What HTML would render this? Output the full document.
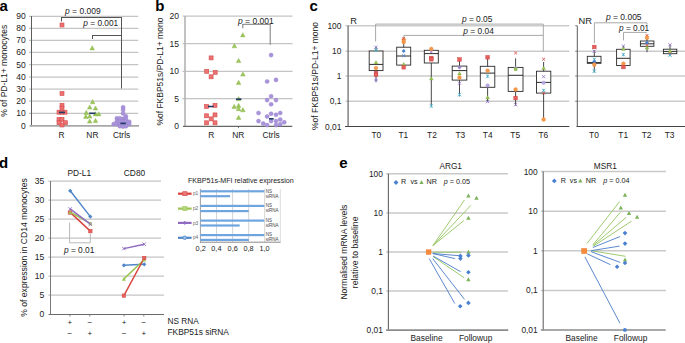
<!DOCTYPE html>
<html><head><meta charset="utf-8"><style>
html,body{margin:0;padding:0;background:#fff;}
body{width:685px;height:343px;overflow:hidden;}
svg{display:block;font-family:"Liberation Sans", sans-serif;}
</style></head><body>
<svg width="685" height="343" viewBox="0 0 685 343" font-family='"Liberation Sans", sans-serif'>
<rect width="685" height="343" fill="#fff"/>
<text x="-0.6" y="10.8" font-size="15" text-anchor="start" font-weight="bold" fill="#000"  style="">a</text>
<line x1="29" y1="113.3" x2="138.3" y2="113.3" stroke="#c4c4c4" stroke-width="1.25" />
<text x="25.8" y="116.3" font-size="8.5" text-anchor="end" font-weight="normal" fill="#222"  style="">10</text>
<line x1="29" y1="101.2" x2="138.3" y2="101.2" stroke="#c4c4c4" stroke-width="1.25" />
<text x="25.8" y="104.2" font-size="8.5" text-anchor="end" font-weight="normal" fill="#222"  style="">20</text>
<line x1="29" y1="89.2" x2="138.3" y2="89.2" stroke="#c4c4c4" stroke-width="1.25" />
<text x="25.8" y="92.2" font-size="8.5" text-anchor="end" font-weight="normal" fill="#222"  style="">30</text>
<line x1="29" y1="77.2" x2="138.3" y2="77.2" stroke="#c4c4c4" stroke-width="1.25" />
<text x="25.8" y="80.2" font-size="8.5" text-anchor="end" font-weight="normal" fill="#222"  style="">40</text>
<line x1="29" y1="64.7" x2="138.3" y2="64.7" stroke="#c4c4c4" stroke-width="1.25" />
<text x="25.8" y="67.7" font-size="8.5" text-anchor="end" font-weight="normal" fill="#222"  style="">50</text>
<line x1="29" y1="52.3" x2="138.3" y2="52.3" stroke="#c4c4c4" stroke-width="1.25" />
<text x="25.8" y="55.3" font-size="8.5" text-anchor="end" font-weight="normal" fill="#222"  style="">60</text>
<line x1="29" y1="40.4" x2="138.3" y2="40.4" stroke="#c4c4c4" stroke-width="1.25" />
<text x="25.8" y="43.4" font-size="8.5" text-anchor="end" font-weight="normal" fill="#222"  style="">70</text>
<line x1="29" y1="28.3" x2="138.3" y2="28.3" stroke="#c4c4c4" stroke-width="1.25" />
<text x="25.8" y="31.3" font-size="8.5" text-anchor="end" font-weight="normal" fill="#222"  style="">80</text>
<line x1="29" y1="16.3" x2="138.3" y2="16.3" stroke="#c4c4c4" stroke-width="1.25" />
<text x="25.8" y="19.3" font-size="8.5" text-anchor="end" font-weight="normal" fill="#222"  style="">90</text>
<text x="25.8" y="128.6" font-size="8.5" text-anchor="end" font-weight="normal" fill="#222"  style="">0</text>
<line x1="31.5" y1="16" x2="31.5" y2="126.4" stroke="#5c5c5c" stroke-width="1" />
<line x1="29.5" y1="125.8" x2="139" y2="125.8" stroke="#a8a8a8" stroke-width="1.7" />
<text transform="translate(7.4,70.8) rotate(-90)" font-size="8.5" text-anchor="middle" fill="#222">% of PD-L1+ monocytes</text>
<line x1="61.5" y1="17.5" x2="121.5" y2="17.5" stroke="#555" stroke-width="1" />
<line x1="61.5" y1="17" x2="61.5" y2="21.5" stroke="#555" stroke-width="1" />
<line x1="121.5" y1="17" x2="121.5" y2="88.5" stroke="#555" stroke-width="1" />
<line x1="92.5" y1="35.5" x2="121" y2="35.5" stroke="#555" stroke-width="1" />
<line x1="92.5" y1="35" x2="92.5" y2="39" stroke="#555" stroke-width="1" />
<text x="65" y="14.2" font-size="8.5" text-anchor="start" font-weight="normal" fill="#222"  style=""><tspan font-style="italic">p</tspan> = 0.009</text>
<text x="83.3" y="26.3" font-size="8.3" text-anchor="start" font-weight="normal" fill="#222"  style=""><tspan font-style="italic">p</tspan> = 0.001</text>
<rect x="60.0" y="23.0" width="4" height="4" fill="#ec7272" stroke="#d44c4c" stroke-width="0.6"/>
<rect x="60.0" y="91.5" width="4" height="4" fill="#ec7272" stroke="#d44c4c" stroke-width="0.6"/>
<rect x="60.0" y="103.3" width="4" height="4" fill="#ec7272" stroke="#d44c4c" stroke-width="0.6"/>
<rect x="60.0" y="106.2" width="4" height="4" fill="#ec7272" stroke="#d44c4c" stroke-width="0.6"/>
<rect x="57.0" y="110.2" width="4" height="4" fill="#ec7272" stroke="#d44c4c" stroke-width="0.6"/>
<rect x="60.0" y="110.2" width="4" height="4" fill="#ec7272" stroke="#d44c4c" stroke-width="0.6"/>
<rect x="63.0" y="110.2" width="4" height="4" fill="#ec7272" stroke="#d44c4c" stroke-width="0.6"/>
<rect x="57.0" y="117.5" width="4" height="4" fill="#ec7272" stroke="#d44c4c" stroke-width="0.6"/>
<rect x="60.0" y="117.5" width="4" height="4" fill="#ec7272" stroke="#d44c4c" stroke-width="0.6"/>
<rect x="57.0" y="120.7" width="4" height="4" fill="#ec7272" stroke="#d44c4c" stroke-width="0.6"/>
<rect x="63.5" y="120.7" width="4" height="4" fill="#ec7272" stroke="#d44c4c" stroke-width="0.6"/>
<rect x="60.0" y="123.0" width="4" height="4" fill="#ec7272" stroke="#d44c4c" stroke-width="0.6"/>
<line x1="59" y1="112.4" x2="65" y2="112.4" stroke="#1f3a64" stroke-width="1.6" />
<path d="M89.9,49.9 L92.2,45.699999999999996 L94.5,49.9 Z" fill="#9cc65a" stroke="#86b244" stroke-width="0.4"/>
<path d="M90.3,103.8 L92.6,99.60000000000001 L94.89999999999999,103.8 Z" fill="#9cc65a" stroke="#86b244" stroke-width="0.4"/>
<path d="M87.4,109.1 L89.7,104.9 L92.0,109.1 Z" fill="#9cc65a" stroke="#86b244" stroke-width="0.4"/>
<path d="M93.2,110.1 L95.5,105.9 L97.8,110.1 Z" fill="#9cc65a" stroke="#86b244" stroke-width="0.4"/>
<path d="M84.0,114.39999999999999 L86.3,110.2 L88.6,114.39999999999999 Z" fill="#9cc65a" stroke="#86b244" stroke-width="0.4"/>
<path d="M93.2,115.89999999999999 L95.5,111.7 L97.8,115.89999999999999 Z" fill="#9cc65a" stroke="#86b244" stroke-width="0.4"/>
<path d="M96.5,115.89999999999999 L98.8,111.7 L101.1,115.89999999999999 Z" fill="#9cc65a" stroke="#86b244" stroke-width="0.4"/>
<path d="M83.5,118.39999999999999 L85.8,114.2 L88.1,118.39999999999999 Z" fill="#9cc65a" stroke="#86b244" stroke-width="0.4"/>
<path d="M87.4,118.1 L89.7,113.9 L92.0,118.1 Z" fill="#9cc65a" stroke="#86b244" stroke-width="0.4"/>
<path d="M87.4,123.1 L89.7,118.9 L92.0,123.1 Z" fill="#9cc65a" stroke="#86b244" stroke-width="0.4"/>
<path d="M93.2,122.6 L95.5,118.4 L97.8,122.6 Z" fill="#9cc65a" stroke="#86b244" stroke-width="0.4"/>
<line x1="89.2" y1="113.3" x2="95.5" y2="113.3" stroke="#1f3a64" stroke-width="1.6" />
<circle cx="123.1" cy="107.3" r="2.05" fill="#a993da" stroke="#9580cc" stroke-width="0.4"/>
<circle cx="123.1" cy="109.8" r="2.05" fill="#a993da" stroke="#9580cc" stroke-width="0.4"/>
<circle cx="123.1" cy="113.4" r="2.05" fill="#a993da" stroke="#9580cc" stroke-width="0.4"/>
<circle cx="125.9" cy="116.3" r="2.05" fill="#a993da" stroke="#9580cc" stroke-width="0.4"/>
<circle cx="116.9" cy="118.3" r="2.05" fill="#a993da" stroke="#9580cc" stroke-width="0.4"/>
<circle cx="119.8" cy="118.3" r="2.05" fill="#a993da" stroke="#9580cc" stroke-width="0.4"/>
<circle cx="123.2" cy="118.8" r="2.05" fill="#a993da" stroke="#9580cc" stroke-width="0.4"/>
<circle cx="125.9" cy="118.8" r="2.05" fill="#a993da" stroke="#9580cc" stroke-width="0.4"/>
<circle cx="116.9" cy="121.2" r="2.05" fill="#a993da" stroke="#9580cc" stroke-width="0.4"/>
<circle cx="119.8" cy="121.2" r="2.05" fill="#a993da" stroke="#9580cc" stroke-width="0.4"/>
<circle cx="123" cy="121.2" r="2.05" fill="#a993da" stroke="#9580cc" stroke-width="0.4"/>
<circle cx="125.9" cy="121.2" r="2.05" fill="#a993da" stroke="#9580cc" stroke-width="0.4"/>
<circle cx="129.2" cy="121.7" r="2.05" fill="#a993da" stroke="#9580cc" stroke-width="0.4"/>
<circle cx="113.7" cy="124" r="2.05" fill="#a993da" stroke="#9580cc" stroke-width="0.4"/>
<circle cx="116.9" cy="124" r="2.05" fill="#a993da" stroke="#9580cc" stroke-width="0.4"/>
<circle cx="119.8" cy="124.5" r="2.05" fill="#a993da" stroke="#9580cc" stroke-width="0.4"/>
<circle cx="123" cy="124.5" r="2.05" fill="#a993da" stroke="#9580cc" stroke-width="0.4"/>
<circle cx="126" cy="124.5" r="2.05" fill="#a993da" stroke="#9580cc" stroke-width="0.4"/>
<circle cx="129.2" cy="124" r="2.05" fill="#a993da" stroke="#9580cc" stroke-width="0.4"/>
<circle cx="119.8" cy="126.3" r="2.05" fill="#a993da" stroke="#9580cc" stroke-width="0.4"/>
<circle cx="123" cy="126.6" r="2.05" fill="#a993da" stroke="#9580cc" stroke-width="0.4"/>
<circle cx="126" cy="126.3" r="2.05" fill="#a993da" stroke="#9580cc" stroke-width="0.4"/>
<line x1="120.4" y1="123.4" x2="125.9" y2="123.4" stroke="#1f3a64" stroke-width="1.6" />
<text x="61.5" y="137.7" font-size="8.4" text-anchor="middle" font-weight="normal" fill="#222"  style="">R</text>
<text x="92.4" y="137.7" font-size="8.4" text-anchor="middle" font-weight="normal" fill="#222"  style="">NR</text>
<text x="121.6" y="137.7" font-size="8.4" text-anchor="middle" font-weight="normal" fill="#222"  style="">Ctrls</text>
<text x="155.3" y="10.8" font-size="15" text-anchor="start" font-weight="bold" fill="#000"  style="">b</text>
<line x1="182.5" y1="98.6" x2="292.5" y2="98.6" stroke="#c4c4c4" stroke-width="1.25" />
<text x="179" y="101.6" font-size="8.5" text-anchor="end" font-weight="normal" fill="#222"  style="">5</text>
<line x1="182.5" y1="71.35" x2="292.5" y2="71.35" stroke="#c4c4c4" stroke-width="1.25" />
<text x="179" y="74.35" font-size="8.5" text-anchor="end" font-weight="normal" fill="#222"  style="">10</text>
<line x1="182.5" y1="43.5" x2="292.5" y2="43.5" stroke="#c4c4c4" stroke-width="1.25" />
<text x="179" y="46.5" font-size="8.5" text-anchor="end" font-weight="normal" fill="#222"  style="">15</text>
<line x1="182.5" y1="16.2" x2="292.5" y2="16.2" stroke="#c4c4c4" stroke-width="1.25" />
<text x="179" y="19.2" font-size="8.5" text-anchor="end" font-weight="normal" fill="#222"  style="">20</text>
<text x="179" y="129.2" font-size="8.5" text-anchor="end" font-weight="normal" fill="#222"  style="">0</text>
<line x1="185" y1="16" x2="185" y2="126.4" stroke="#b8b8b8" stroke-width="1.7" />
<line x1="183" y1="126.4" x2="292.3" y2="126.4" stroke="#666" stroke-width="1.3" />
<line x1="238.5" y1="126.2" x2="238.5" y2="128" stroke="#5a5a5a" stroke-width="0.8" />
<text transform="translate(162.6,71.6) rotate(-90)" font-size="8.5" text-anchor="middle" fill="#222">%of FKBP51s/PD-L1+ mono</text>
<line x1="242.8" y1="24.3" x2="270.2" y2="24.3" stroke="#7a7a7a" stroke-width="1" />
<line x1="242.8" y1="24" x2="242.8" y2="28.3" stroke="#7a7a7a" stroke-width="1" />
<line x1="270.2" y1="24" x2="270.2" y2="44.8" stroke="#7a7a7a" stroke-width="1" />
<text x="238" y="23.8" font-size="8.5" text-anchor="start" font-weight="normal" fill="#222"  style=""><tspan font-style="italic">p</tspan> = 0.001</text>
<rect x="209.1" y="55.9" width="4" height="4" fill="#ec7272" stroke="#d44c4c" stroke-width="0.6"/>
<rect x="204.7" y="69.3" width="4" height="4" fill="#ec7272" stroke="#d44c4c" stroke-width="0.6"/>
<rect x="213.2" y="70.3" width="4" height="4" fill="#ec7272" stroke="#d44c4c" stroke-width="0.6"/>
<rect x="209.1" y="74.8" width="4" height="4" fill="#ec7272" stroke="#d44c4c" stroke-width="0.6"/>
<rect x="204.6" y="104.5" width="4" height="4" fill="#ec7272" stroke="#d44c4c" stroke-width="0.6"/>
<rect x="213.0" y="103.3" width="4" height="4" fill="#ec7272" stroke="#d44c4c" stroke-width="0.6"/>
<rect x="204.6" y="113.8" width="4" height="4" fill="#ec7272" stroke="#d44c4c" stroke-width="0.6"/>
<rect x="213.0" y="112.9" width="4" height="4" fill="#ec7272" stroke="#d44c4c" stroke-width="0.6"/>
<rect x="209.2" y="116.9" width="4" height="4" fill="#ec7272" stroke="#d44c4c" stroke-width="0.6"/>
<rect x="204.6" y="120.8" width="4" height="4" fill="#ec7272" stroke="#d44c4c" stroke-width="0.6"/>
<rect x="213.0" y="120.8" width="4" height="4" fill="#ec7272" stroke="#d44c4c" stroke-width="0.6"/>
<line x1="208" y1="106.5" x2="213.6" y2="106.5" stroke="#1f3a64" stroke-width="1.6" />
<path d="M240.5,36.9 L242.8,32.699999999999996 L245.10000000000002,36.9 Z" fill="#9cc65a" stroke="#86b244" stroke-width="0.4"/>
<path d="M232.1,47.800000000000004 L234.4,43.6 L236.70000000000002,47.800000000000004 Z" fill="#9cc65a" stroke="#86b244" stroke-width="0.4"/>
<path d="M236.29999999999998,62.6 L238.6,58.4 L240.9,62.6 Z" fill="#9cc65a" stroke="#86b244" stroke-width="0.4"/>
<path d="M240.6,76.1 L242.9,71.9 L245.20000000000002,76.1 Z" fill="#9cc65a" stroke="#86b244" stroke-width="0.4"/>
<path d="M236.29999999999998,84.39999999999999 L238.6,80.2 L240.9,84.39999999999999 Z" fill="#9cc65a" stroke="#86b244" stroke-width="0.4"/>
<path d="M236.29999999999998,100.8 L238.6,96.60000000000001 L240.9,100.8 Z" fill="#9cc65a" stroke="#86b244" stroke-width="0.4"/>
<path d="M231.89999999999998,108.5 L234.2,104.30000000000001 L236.5,108.5 Z" fill="#9cc65a" stroke="#86b244" stroke-width="0.4"/>
<path d="M236.29999999999998,107.39999999999999 L238.6,103.2 L240.9,107.39999999999999 Z" fill="#9cc65a" stroke="#86b244" stroke-width="0.4"/>
<path d="M236.29999999999998,110.69999999999999 L238.6,106.5 L240.9,110.69999999999999 Z" fill="#9cc65a" stroke="#86b244" stroke-width="0.4"/>
<path d="M240.6,111.8 L242.9,107.60000000000001 L245.20000000000002,111.8 Z" fill="#9cc65a" stroke="#86b244" stroke-width="0.4"/>
<path d="M236.29999999999998,119.39999999999999 L238.6,115.2 L240.9,119.39999999999999 Z" fill="#9cc65a" stroke="#86b244" stroke-width="0.4"/>
<line x1="236" y1="99.2" x2="241.4" y2="99.2" stroke="#1f3a64" stroke-width="1.6" />
<circle cx="271.1" cy="55.1" r="2.05" fill="#a993da" stroke="#9580cc" stroke-width="0.4"/>
<circle cx="267.1" cy="81.5" r="2.05" fill="#a993da" stroke="#9580cc" stroke-width="0.4"/>
<circle cx="276" cy="79.9" r="2.05" fill="#a993da" stroke="#9580cc" stroke-width="0.4"/>
<circle cx="271.1" cy="96.2" r="2.05" fill="#a993da" stroke="#9580cc" stroke-width="0.4"/>
<circle cx="267.1" cy="100.1" r="2.05" fill="#a993da" stroke="#9580cc" stroke-width="0.4"/>
<circle cx="276" cy="100.1" r="2.05" fill="#a993da" stroke="#9580cc" stroke-width="0.4"/>
<circle cx="271.1" cy="104.3" r="2.05" fill="#a993da" stroke="#9580cc" stroke-width="0.4"/>
<circle cx="258.5" cy="113" r="2.05" fill="#a993da" stroke="#9580cc" stroke-width="0.4"/>
<circle cx="267.1" cy="116.5" r="2.05" fill="#a993da" stroke="#9580cc" stroke-width="0.4"/>
<circle cx="271.1" cy="113.7" r="2.05" fill="#a993da" stroke="#9580cc" stroke-width="0.4"/>
<circle cx="276" cy="114.8" r="2.05" fill="#a993da" stroke="#9580cc" stroke-width="0.4"/>
<circle cx="280.2" cy="113" r="2.05" fill="#a993da" stroke="#9580cc" stroke-width="0.4"/>
<circle cx="258.5" cy="121.1" r="2.05" fill="#a993da" stroke="#9580cc" stroke-width="0.4"/>
<circle cx="263.2" cy="123.5" r="2.05" fill="#a993da" stroke="#9580cc" stroke-width="0.4"/>
<circle cx="267.1" cy="125.1" r="2.05" fill="#a993da" stroke="#9580cc" stroke-width="0.4"/>
<circle cx="271.1" cy="121.1" r="2.05" fill="#a993da" stroke="#9580cc" stroke-width="0.4"/>
<circle cx="276" cy="121.1" r="2.05" fill="#a993da" stroke="#9580cc" stroke-width="0.4"/>
<circle cx="280.2" cy="119.5" r="2.05" fill="#a993da" stroke="#9580cc" stroke-width="0.4"/>
<circle cx="276" cy="125.1" r="2.05" fill="#a993da" stroke="#9580cc" stroke-width="0.4"/>
<circle cx="280.2" cy="124.2" r="2.05" fill="#a993da" stroke="#9580cc" stroke-width="0.4"/>
<circle cx="284.2" cy="122.3" r="2.05" fill="#a993da" stroke="#9580cc" stroke-width="0.4"/>
<line x1="269" y1="118.8" x2="273.7" y2="118.8" stroke="#1f3a64" stroke-width="1.6" />
<text x="211.2" y="137.7" font-size="8.4" text-anchor="middle" font-weight="normal" fill="#222"  style="">R</text>
<text x="238.3" y="137.7" font-size="8.4" text-anchor="middle" font-weight="normal" fill="#222"  style="">NR</text>
<text x="271.1" y="137.7" font-size="8.4" text-anchor="middle" font-weight="normal" fill="#222"  style="">Ctrls</text>
<text x="309.6" y="11" font-size="15" text-anchor="start" font-weight="bold" fill="#000"  style="">c</text>
<line x1="345.5" y1="25.7" x2="569.3" y2="25.7" stroke="#cbcbcb" stroke-width="1.5" />
<line x1="575.2" y1="25.7" x2="577.3" y2="25.7" stroke="#5a5a5a" stroke-width="0.8" />
<line x1="345.5" y1="51.2" x2="569.3" y2="51.2" stroke="#cbcbcb" stroke-width="1.5" />
<line x1="577" y1="51.2" x2="685" y2="51.2" stroke="#cbcbcb" stroke-width="1.5" />
<line x1="575.2" y1="51.2" x2="577.3" y2="51.2" stroke="#5a5a5a" stroke-width="0.8" />
<line x1="345.5" y1="76.1" x2="569.3" y2="76.1" stroke="#cbcbcb" stroke-width="1.5" />
<line x1="577" y1="76.1" x2="685" y2="76.1" stroke="#cbcbcb" stroke-width="1.5" />
<line x1="575.2" y1="76.1" x2="577.3" y2="76.1" stroke="#5a5a5a" stroke-width="0.8" />
<line x1="345.5" y1="101.3" x2="569.3" y2="101.3" stroke="#cbcbcb" stroke-width="1.5" />
<line x1="577" y1="101.3" x2="685" y2="101.3" stroke="#cbcbcb" stroke-width="1.5" />
<line x1="575.2" y1="101.3" x2="577.3" y2="101.3" stroke="#5a5a5a" stroke-width="0.8" />
<text x="341.4" y="28.620000000000005" font-size="8.4" text-anchor="end" font-weight="normal" fill="#222"  style="">100</text>
<text x="341.4" y="53.84" font-size="8.4" text-anchor="end" font-weight="normal" fill="#222"  style="">10</text>
<text x="341.4" y="79.06" font-size="8.4" text-anchor="end" font-weight="normal" fill="#222"  style="">1</text>
<text x="341.4" y="104.28" font-size="8.4" text-anchor="end" font-weight="normal" fill="#222"  style="">0,1</text>
<text x="341.4" y="129.5" font-size="8.4" text-anchor="end" font-weight="normal" fill="#222"  style="">0,01</text>
<line x1="348.1" y1="25.6" x2="348.1" y2="126.6" stroke="#7a7a7a" stroke-width="1.4" />
<line x1="345" y1="126.5" x2="569.4" y2="126.5" stroke="#444" stroke-width="1.2" />
<line x1="577.3" y1="25.8" x2="577.3" y2="126.6" stroke="#5a5a5a" stroke-width="1" />
<line x1="576.5" y1="126.5" x2="685" y2="126.5" stroke="#444" stroke-width="1.2" />
<text transform="translate(318.1,76) rotate(-90)" font-size="8.5" text-anchor="middle" fill="#222">%of FKBP51s/PD-L1+ mono</text>
<text x="350.3" y="23.7" font-size="9.3" text-anchor="start" font-weight="normal" fill="#222"  style="">R</text>
<text x="578.6" y="23.8" font-size="9.3" text-anchor="start" font-weight="normal" fill="#222"  style="">NR</text>
<line x1="375.6" y1="24.1" x2="543.3" y2="24.1" stroke="#a8a8a8" stroke-width="1" />
<line x1="375.6" y1="24.1" x2="375.6" y2="41.5" stroke="#a8a8a8" stroke-width="1" />
<line x1="543.3" y1="24.1" x2="543.3" y2="51.7" stroke="#a8a8a8" stroke-width="1" />
<line x1="403.8" y1="35.4" x2="543.3" y2="35.4" stroke="#a8a8a8" stroke-width="1" />
<line x1="403.8" y1="35.4" x2="403.8" y2="38" stroke="#a8a8a8" stroke-width="1" />
<text x="461.9" y="21.9" font-size="8.4" text-anchor="start" font-weight="normal" fill="#222"  style=""><tspan font-style="italic">p</tspan> = 0.05</text>
<text x="463.3" y="34.2" font-size="8.4" text-anchor="start" font-weight="normal" fill="#222"  style=""><tspan font-style="italic">p</tspan> = 0.04</text>
<line x1="594.4" y1="22.8" x2="647" y2="22.8" stroke="#a8a8a8" stroke-width="1" />
<line x1="594.4" y1="22.8" x2="594.4" y2="43.3" stroke="#a8a8a8" stroke-width="1" />
<line x1="647" y1="22.8" x2="647" y2="24.5" stroke="#a8a8a8" stroke-width="1" />
<line x1="623.5" y1="32.4" x2="647" y2="32.4" stroke="#a8a8a8" stroke-width="1" />
<line x1="623.5" y1="32.4" x2="623.5" y2="40.4" stroke="#a8a8a8" stroke-width="1" />
<text x="605.9" y="19.6" font-size="8.5" text-anchor="start" font-weight="normal" fill="#222"  style=""><tspan font-style="italic">p</tspan> = 0.005</text>
<text x="619" y="30.7" font-size="8.3" text-anchor="start" font-weight="normal" fill="#222"  style=""><tspan font-style="italic">p</tspan> = 0.01</text>
<line x1="376" y1="46.6" x2="376" y2="82.3" stroke="#333" stroke-width="0.9" />
<rect x="369.2" y="51" width="13.800000000000011" height="19.599999999999994" fill="white" stroke="#2a2a2a" stroke-width="0.9"/>
<line x1="369.2" y1="64.4" x2="383" y2="64.4" stroke="#2a2a2a" stroke-width="1" />
<path d="M374.4,45.699999999999996 L377.6,48.9 M377.6,45.699999999999996 L374.4,48.9" stroke="#8d6cc0" stroke-width="0.8" fill="none"/>
<path d="M374.3,48.5 L377.7,51.900000000000006 M377.7,48.5 L374.3,51.900000000000006 M376,48.5 L376,51.900000000000006" stroke="#4bacc6" stroke-width="0.8" fill="none"/>
<path d="M374.1,63.900000000000006 L376,60.5 L377.9,63.900000000000006 Z" fill="#93c04f" stroke="#7fae3c" stroke-width="0.3"/>
<circle cx="376" cy="68.1" r="1.9" fill="#f59a4a" stroke="#e8863a" stroke-width="0.4"/>
<rect x="374.2" y="71.5" width="3.6" height="3.6" fill="#e8605e" stroke="#c84440" stroke-width="0.5"/>
<rect x="374.2" y="73.0" width="3.6" height="3.6" fill="#e8605e" stroke="#c84440" stroke-width="0.5"/>
<path d="M376,78.1 L378.0,80.1 L376,82.1 L374.0,80.1 Z" fill="#9d86cf" stroke="none"/>
<line x1="403.7" y1="38.1" x2="403.7" y2="68.7" stroke="#333" stroke-width="0.9" />
<rect x="396.7" y="47.2" width="14.0" height="17.89999999999999" fill="white" stroke="#2a2a2a" stroke-width="0.9"/>
<line x1="396.7" y1="56" x2="410.7" y2="56" stroke="#2a2a2a" stroke-width="1" />
<circle cx="403.7" cy="42" r="1.9" fill="#f59a4a" stroke="#e8863a" stroke-width="0.4"/>
<circle cx="403.7" cy="39.8" r="1.9" fill="#f59a4a" stroke="#e8863a" stroke-width="0.4"/>
<path d="M402.3,37.0 L405.09999999999997,39.8 M405.09999999999997,37.0 L402.3,39.8" stroke="#d9423d" stroke-width="0.8" fill="none"/>
<path d="M403.7,49.0 L405.7,51 L403.7,53.0 L401.7,51 Z" fill="#4a7fd0" stroke="none"/>
<path d="M402.09999999999997,54.0 L405.3,57.2 M405.3,54.0 L402.09999999999997,57.2" stroke="#4a7fd0" stroke-width="0.8" fill="none"/>
<path d="M401.8,65.7 L403.7,62.3 L405.59999999999997,65.7 Z" fill="#93c04f" stroke="#7fae3c" stroke-width="0.3"/>
<rect x="401.9" y="65.5" width="3.6" height="3.6" fill="#e8605e" stroke="#c84440" stroke-width="0.5"/>
<line x1="431.3" y1="48.7" x2="431.3" y2="105.6" stroke="#333" stroke-width="0.9" />
<rect x="424.3" y="50.3" width="14.0" height="12.700000000000003" fill="white" stroke="#2a2a2a" stroke-width="0.9"/>
<line x1="424.3" y1="53.6" x2="438.3" y2="53.6" stroke="#2a2a2a" stroke-width="1" />
<circle cx="431.3" cy="49" r="1.9" fill="#f59a4a" stroke="#e8863a" stroke-width="0.4"/>
<path d="M429.7,50.4 L432.90000000000003,53.6 M432.90000000000003,50.4 L429.7,53.6" stroke="#8d6cc0" stroke-width="0.8" fill="none"/>
<rect x="429.5" y="56.2" width="3.6" height="3.6" fill="#e8605e" stroke="#c84440" stroke-width="0.5"/>
<rect x="429.5" y="57.5" width="3.6" height="3.6" fill="#e8605e" stroke="#c84440" stroke-width="0.5"/>
<path d="M429.40000000000003,80.0 L431.3,76.6 L433.2,80.0 Z" fill="#93c04f" stroke="#7fae3c" stroke-width="0.3"/>
<path d="M429.6,104.3 L433.0,107.7 M433.0,104.3 L429.6,107.7 M431.3,104.3 L431.3,107.7" stroke="#4bacc6" stroke-width="0.8" fill="none"/>
<line x1="459.5" y1="58.7" x2="459.5" y2="96.4" stroke="#333" stroke-width="0.9" />
<rect x="452.2" y="66.1" width="14.600000000000023" height="14.0" fill="white" stroke="#2a2a2a" stroke-width="0.9"/>
<line x1="452.2" y1="70.6" x2="466.8" y2="70.6" stroke="#2a2a2a" stroke-width="1" />
<rect x="457.7" y="57.7" width="3.6" height="3.6" fill="#e8605e" stroke="#c84440" stroke-width="0.5"/>
<path d="M459.5,65.5 L461.5,67.5 L459.5,69.5 L457.5,67.5 Z" fill="#9d86cf" stroke="none"/>
<path d="M457.6,75.0 L459.5,71.6 L461.4,75.0 Z" fill="#93c04f" stroke="#7fae3c" stroke-width="0.3"/>
<circle cx="459.5" cy="77.5" r="1.9" fill="#f59a4a" stroke="#e8863a" stroke-width="0.4"/>
<path d="M457.9,81.60000000000001 L461.1,84.8 M461.1,81.60000000000001 L457.9,84.8" stroke="#8d6cc0" stroke-width="0.8" fill="none"/>
<path d="M457.8,92.89999999999999 L461.2,96.3 M461.2,92.89999999999999 L457.8,96.3 M459.5,92.89999999999999 L459.5,96.3" stroke="#4bacc6" stroke-width="0.8" fill="none"/>
<line x1="487.6" y1="57" x2="487.6" y2="102.1" stroke="#333" stroke-width="0.9" />
<rect x="480.3" y="66.3" width="14.5" height="21.0" fill="white" stroke="#2a2a2a" stroke-width="0.9"/>
<line x1="480.3" y1="73.1" x2="494.8" y2="73.1" stroke="#2a2a2a" stroke-width="1" />
<rect x="485.8" y="55.5" width="3.6" height="3.6" fill="#e8605e" stroke="#c84440" stroke-width="0.5"/>
<circle cx="487.6" cy="70.6" r="1.9" fill="#f59a4a" stroke="#e8863a" stroke-width="0.4"/>
<path d="M485.90000000000003,74.5 L489.3,77.9 M489.3,74.5 L485.90000000000003,77.9 M487.6,74.5 L487.6,77.9" stroke="#4bacc6" stroke-width="0.8" fill="none"/>
<circle cx="487.6" cy="85.5" r="1.8" fill="#b9a7e0" stroke="#a38fd4" stroke-width="0.4"/>
<path d="M485.70000000000005,98.9 L487.6,95.5 L489.5,98.9 Z" fill="#93c04f" stroke="#7fae3c" stroke-width="0.3"/>
<path d="M486.0,100.0 L489.20000000000005,103.19999999999999 M489.20000000000005,100.0 L486.0,103.19999999999999" stroke="#8d6cc0" stroke-width="0.8" fill="none"/>
<line x1="515.6" y1="58.3" x2="515.6" y2="105.6" stroke="#333" stroke-width="0.9" />
<rect x="508.2" y="67.4" width="14.800000000000011" height="24.0" fill="white" stroke="#2a2a2a" stroke-width="0.9"/>
<line x1="508.2" y1="75.3" x2="523" y2="75.3" stroke="#2a2a2a" stroke-width="1" />
<path d="M514.2,51.6 L517.0,54.4 M517.0,51.6 L514.2,54.4" stroke="#d9423d" stroke-width="0.8" fill="none"/>
<path d="M515.6,66.1 L517.6,68.1 L515.6,70.1 L513.6,68.1 Z" fill="#9d86cf" stroke="none"/>
<rect x="514.1" y="67.8" width="3.0" height="3.0" fill="#93c04f" stroke="#7fae3c" stroke-width="0.3"/>
<circle cx="515.6" cy="89.5" r="1.9" fill="#f59a4a" stroke="#e8863a" stroke-width="0.4"/>
<rect x="513.8000000000001" y="96.2" width="3.6" height="3.6" fill="#e8605e" stroke="#c84440" stroke-width="0.5"/>
<path d="M514.0,103.10000000000001 L517.2,106.3 M517.2,103.10000000000001 L514.0,106.3" stroke="#8d6cc0" stroke-width="0.8" fill="none"/>
<line x1="543.6" y1="62" x2="543.6" y2="119.5" stroke="#333" stroke-width="0.9" />
<rect x="536.5" y="71.2" width="14.299999999999955" height="21.89999999999999" fill="white" stroke="#2a2a2a" stroke-width="0.9"/>
<line x1="536.5" y1="82.4" x2="550.8" y2="82.4" stroke="#2a2a2a" stroke-width="1" />
<path d="M542.2,57.800000000000004 L545.0,60.6 M545.0,57.800000000000004 L542.2,60.6" stroke="#d9423d" stroke-width="0.8" fill="none"/>
<path d="M541.7,69.60000000000001 L543.6,66.2 L545.5,69.60000000000001 Z" fill="#93c04f" stroke="#7fae3c" stroke-width="0.3"/>
<path d="M542.0,75.10000000000001 L545.2,78.3 M545.2,75.10000000000001 L542.0,78.3" stroke="#8d6cc0" stroke-width="0.8" fill="none"/>
<circle cx="543.6" cy="82.8" r="1.8" fill="#b9a7e0" stroke="#a38fd4" stroke-width="0.4"/>
<path d="M541.9,88.8 L545.3000000000001,92.2 M545.3000000000001,88.8 L541.9,92.2 M543.6,88.8 L543.6,92.2" stroke="#4bacc6" stroke-width="0.8" fill="none"/>
<path d="M542.2,91.69999999999999 L545.0,94.5 M545.0,91.69999999999999 L542.2,94.5" stroke="#d9423d" stroke-width="0.8" fill="none"/>
<circle cx="543.6" cy="119.5" r="1.9" fill="#f59a4a" stroke="#e8863a" stroke-width="0.4"/>
<line x1="594.3" y1="50.2" x2="594.3" y2="72.3" stroke="#333" stroke-width="0.9" />
<rect x="587.3" y="56.3" width="13.700000000000045" height="7.0" fill="white" stroke="#2a2a2a" stroke-width="0.9"/>
<line x1="587.3" y1="62.6" x2="601" y2="62.6" stroke="#2a2a2a" stroke-width="1" />
<rect x="592.5" y="45.2" width="3.6" height="3.6" fill="#e8605e" stroke="#c84440" stroke-width="0.5"/>
<path d="M592.6999999999999,49.699999999999996 L595.9,52.9 M595.9,49.699999999999996 L592.6999999999999,52.9" stroke="#8d6cc0" stroke-width="0.8" fill="none"/>
<path d="M592.5999999999999,57.8 L596.0,61.2 M596.0,57.8 L592.5999999999999,61.2 M594.3,57.8 L594.3,61.2" stroke="#4bacc6" stroke-width="0.8" fill="none"/>
<path d="M594.3,59.8 L596.3,61.8 L594.3,63.8 L592.3,61.8 Z" fill="#4a7fd0" stroke="none"/>
<circle cx="594.3" cy="64.7" r="1.9" fill="#f59a4a" stroke="#e8863a" stroke-width="0.4"/>
<path d="M592.5999999999999,69.39999999999999 L596.0,72.8 M596.0,69.39999999999999 L592.5999999999999,72.8 M594.3,69.39999999999999 L594.3,72.8" stroke="#4bacc6" stroke-width="0.8" fill="none"/>
<line x1="623.4" y1="46" x2="623.4" y2="67" stroke="#333" stroke-width="0.9" />
<rect x="616.6" y="49.3" width="13.5" height="16.200000000000003" fill="white" stroke="#2a2a2a" stroke-width="0.9"/>
<line x1="616.6" y1="58.3" x2="630.1" y2="58.3" stroke="#2a2a2a" stroke-width="1" />
<path d="M621.8,44.5 L625.0,47.7 M625.0,44.5 L621.8,47.7" stroke="#8d6cc0" stroke-width="0.8" fill="none"/>
<path d="M621.5,50.5 L623.4,47.099999999999994 L625.3,50.5 Z" fill="#93c04f" stroke="#7fae3c" stroke-width="0.3"/>
<path d="M621.6999999999999,52.9 L625.1,56.300000000000004 M625.1,52.9 L621.6999999999999,56.300000000000004 M623.4,52.9 L623.4,56.300000000000004" stroke="#4bacc6" stroke-width="0.8" fill="none"/>
<circle cx="623.4" cy="63.6" r="1.9" fill="#f59a4a" stroke="#e8863a" stroke-width="0.4"/>
<rect x="621.6" y="65.2" width="3.6" height="3.6" fill="#e8605e" stroke="#c84440" stroke-width="0.5"/>
<line x1="647" y1="35.6" x2="647" y2="52.2" stroke="#333" stroke-width="0.9" />
<rect x="640.4" y="41" width="13.5" height="5.299999999999997" fill="white" stroke="#2a2a2a" stroke-width="0.9"/>
<line x1="640.4" y1="43.8" x2="653.9" y2="43.8" stroke="#2a2a2a" stroke-width="1" />
<path d="M645.6,34.0 L648.4,36.8 M648.4,34.0 L645.6,36.8" stroke="#d9423d" stroke-width="0.8" fill="none"/>
<circle cx="647" cy="37.7" r="1.9" fill="#f59a4a" stroke="#e8863a" stroke-width="0.4"/>
<path d="M647,40.8 L649.0,42.8 L647,44.8 L645.0,42.8 Z" fill="#4a7fd0" stroke="none"/>
<path d="M645.6,43.9 L648.4,46.699999999999996 M648.4,43.9 L645.6,46.699999999999996" stroke="#d9423d" stroke-width="0.8" fill="none"/>
<path d="M645.1,49.0 L647,45.599999999999994 L648.9,49.0 Z" fill="#93c04f" stroke="#7fae3c" stroke-width="0.3"/>
<line x1="670" y1="44.8" x2="670" y2="55" stroke="#333" stroke-width="0.9" />
<rect x="663.4" y="49.2" width="13.399999999999977" height="4.5" fill="white" stroke="#2a2a2a" stroke-width="0.9"/>
<line x1="663.4" y1="51.4" x2="676.8" y2="51.4" stroke="#2a2a2a" stroke-width="1" />
<path d="M668.4,43.199999999999996 L671.6,46.4 M671.6,43.199999999999996 L668.4,46.4" stroke="#8d6cc0" stroke-width="0.8" fill="none"/>
<path d="M668.1,52.6 L670,49.199999999999996 L671.9,52.6 Z" fill="#93c04f" stroke="#7fae3c" stroke-width="0.3"/>
<path d="M668.6,52.2 L671.4,55.0 M671.4,52.2 L668.6,55.0" stroke="#d9423d" stroke-width="0.8" fill="none"/>
<path d="M668.3,53.3 L671.7,56.7 M671.7,53.3 L668.3,56.7 M670,53.3 L670,56.7" stroke="#4bacc6" stroke-width="0.8" fill="none"/>
<text x="376.4" y="137.7" font-size="8.4" text-anchor="middle" font-weight="normal" fill="#222"  style="">T0</text>
<text x="403.4" y="137.7" font-size="8.4" text-anchor="middle" font-weight="normal" fill="#222"  style="">T1</text>
<text x="432" y="137.7" font-size="8.4" text-anchor="middle" font-weight="normal" fill="#222"  style="">T2</text>
<text x="460.3" y="137.7" font-size="8.4" text-anchor="middle" font-weight="normal" fill="#222"  style="">T3</text>
<text x="487.7" y="137.7" font-size="8.4" text-anchor="middle" font-weight="normal" fill="#222"  style="">T4</text>
<text x="515.2" y="137.7" font-size="8.4" text-anchor="middle" font-weight="normal" fill="#222"  style="">T5</text>
<text x="543.3" y="137.7" font-size="8.4" text-anchor="middle" font-weight="normal" fill="#222"  style="">T6</text>
<text x="594" y="137.7" font-size="8.4" text-anchor="middle" font-weight="normal" fill="#222"  style="">T0</text>
<text x="623.2" y="137.7" font-size="8.4" text-anchor="middle" font-weight="normal" fill="#222"  style="">T1</text>
<text x="646.6" y="137.7" font-size="8.4" text-anchor="middle" font-weight="normal" fill="#222"  style="">T2</text>
<text x="669.6" y="137.7" font-size="8.4" text-anchor="middle" font-weight="normal" fill="#222"  style="">T3</text>
<text x="-1" y="167.5" font-size="15" text-anchor="start" font-weight="bold" fill="#000"  style="">d</text>
<line x1="48.3" y1="295.0" x2="164" y2="295.0" stroke="#c4c4c4" stroke-width="1.25" />
<line x1="48.3" y1="276.0" x2="164" y2="276.0" stroke="#c4c4c4" stroke-width="1.25" />
<line x1="48.3" y1="257.0" x2="164" y2="257.0" stroke="#c4c4c4" stroke-width="1.25" />
<line x1="48.3" y1="238.0" x2="161" y2="238.0" stroke="#c4c4c4" stroke-width="1.25" />
<line x1="48.3" y1="219.0" x2="161" y2="219.0" stroke="#c4c4c4" stroke-width="1.25" />
<line x1="48.3" y1="200.0" x2="161" y2="200.0" stroke="#c4c4c4" stroke-width="1.25" />
<line x1="48.3" y1="181.0" x2="161" y2="181.0" stroke="#c4c4c4" stroke-width="1.25" />
<text x="44.4" y="317.2" font-size="8.6" text-anchor="end" font-weight="normal" fill="#222"  style="">0</text>
<text x="44.4" y="298.2" font-size="8.6" text-anchor="end" font-weight="normal" fill="#222"  style="">5</text>
<text x="44.4" y="279.2" font-size="8.6" text-anchor="end" font-weight="normal" fill="#222"  style="">10</text>
<text x="44.4" y="260.2" font-size="8.6" text-anchor="end" font-weight="normal" fill="#222"  style="">15</text>
<text x="44.4" y="241.2" font-size="8.6" text-anchor="end" font-weight="normal" fill="#222"  style="">20</text>
<text x="44.4" y="222.2" font-size="8.6" text-anchor="end" font-weight="normal" fill="#222"  style="">25</text>
<text x="44.4" y="203.2" font-size="8.6" text-anchor="end" font-weight="normal" fill="#222"  style="">30</text>
<text x="44.4" y="184.2" font-size="8.6" text-anchor="end" font-weight="normal" fill="#222"  style="">35</text>
<line x1="50.5" y1="181" x2="50.5" y2="314.5" stroke="#7a7a7a" stroke-width="1" />
<line x1="48.5" y1="314.5" x2="164" y2="314.5" stroke="#6a6a6a" stroke-width="1" />
<line x1="69.9" y1="314.5" x2="69.9" y2="316.5" stroke="#6a6a6a" stroke-width="0.8" />
<line x1="89.8" y1="314.5" x2="89.8" y2="316.5" stroke="#6a6a6a" stroke-width="0.8" />
<line x1="124.1" y1="314.5" x2="124.1" y2="316.5" stroke="#6a6a6a" stroke-width="0.8" />
<line x1="143.8" y1="314.5" x2="143.8" y2="316.5" stroke="#6a6a6a" stroke-width="0.8" />
<text transform="translate(27.4,247.5) rotate(-90)" font-size="8.6" text-anchor="middle" fill="#222">% of expression in CD14 monocytes</text>
<text x="79.3" y="176.4" font-size="8.4" text-anchor="middle" font-weight="normal" fill="#222"  style="">PD-L1</text>
<text x="134.5" y="175.9" font-size="8.4" text-anchor="middle" font-weight="normal" fill="#222"  style="">CD80</text>
<line x1="70.2" y1="190.8" x2="90.3" y2="216.6" stroke="#4f86c8" stroke-width="1.45" />
<line x1="70.2" y1="212.4" x2="90.3" y2="231.1" stroke="#d9443f" stroke-width="1.45" />
<line x1="70.2" y1="212" x2="90.3" y2="223.3" stroke="#9bc452" stroke-width="1.45" />
<line x1="70.2" y1="208.9" x2="90.3" y2="224.2" stroke="#8f6bc2" stroke-width="1.45" />
<path d="M70.2,188.70000000000002 L72.3,190.8 L70.2,192.9 L68.10000000000001,190.8 Z" fill="#4f86c8" stroke="none"/>
<path d="M90.3,214.5 L92.39999999999999,216.6 L90.3,218.7 L88.2,216.6 Z" fill="#4f86c8" stroke="none"/>
<rect x="68.10000000000001" y="210.79999999999998" width="3.6" height="3.6" fill="#e8605e" stroke="#c84440" stroke-width="0.4"/>
<rect x="88.5" y="229.29999999999998" width="3.6" height="3.6" fill="#e8605e" stroke="#c84440" stroke-width="0.4"/>
<path d="M68.3,214.0 L70.3,210.39999999999998 L72.3,214.0 Z" fill="#9bc452" stroke="none" stroke-width="0"/>
<path d="M88.4,225.20000000000002 L90.4,221.6 L92.4,225.20000000000002 Z" fill="#9bc452" stroke="none" stroke-width="0"/>
<path d="M68.5,207.20000000000002 L71.9,210.6 M71.9,207.20000000000002 L68.5,210.6" stroke="#8f6bc2" stroke-width="0.9" fill="none"/>
<path d="M88.6,222.5 L92.0,225.89999999999998 M92.0,222.5 L88.6,225.89999999999998" stroke="#8f6bc2" stroke-width="0.9" fill="none"/>
<line x1="123.9" y1="248.6" x2="144.2" y2="244.2" stroke="#8f6bc2" stroke-width="1.45" />
<line x1="123.9" y1="265.3" x2="144.2" y2="264.3" stroke="#4f86c8" stroke-width="1.45" />
<line x1="123.9" y1="278.9" x2="144.2" y2="259.8" stroke="#9bc452" stroke-width="1.45" />
<line x1="123.9" y1="295.7" x2="144.2" y2="258" stroke="#d9443f" stroke-width="1.45" />
<path d="M122.2,246.9 L125.60000000000001,250.29999999999998 M125.60000000000001,246.9 L122.2,250.29999999999998" stroke="#8f6bc2" stroke-width="0.9" fill="none"/>
<path d="M142.5,242.5 L145.89999999999998,245.89999999999998 M145.89999999999998,242.5 L142.5,245.89999999999998" stroke="#8f6bc2" stroke-width="0.9" fill="none"/>
<path d="M123.9,263.2 L126.0,265.3 L123.9,267.40000000000003 L121.80000000000001,265.3 Z" fill="#4f86c8" stroke="none"/>
<path d="M144.2,262.2 L146.29999999999998,264.3 L144.2,266.40000000000003 L142.1,264.3 Z" fill="#4f86c8" stroke="none"/>
<path d="M121.9,280.7 L123.9,277.09999999999997 L125.9,280.7 Z" fill="#9bc452" stroke="none" stroke-width="0"/>
<path d="M142.2,261.6 L144.2,258.0 L146.2,261.6 Z" fill="#9bc452" stroke="none" stroke-width="0"/>
<rect x="122.10000000000001" y="293.9" width="3.6" height="3.6" fill="#e8605e" stroke="#c84440" stroke-width="0.4"/>
<rect x="142.39999999999998" y="256.2" width="3.6" height="3.6" fill="#e8605e" stroke="#c84440" stroke-width="0.4"/>
<line x1="69.6" y1="222.7" x2="69.6" y2="242.8" stroke="#b8b8b8" stroke-width="1" />
<line x1="69.6" y1="242.8" x2="90.3" y2="242.8" stroke="#b8b8b8" stroke-width="1" />
<line x1="90.3" y1="233.3" x2="90.3" y2="242.8" stroke="#b8b8b8" stroke-width="1" />
<text x="63.9" y="252.9" font-size="8.4" text-anchor="start" font-weight="normal" fill="#222"  style=""><tspan font-style="italic">p</tspan> = 0.01</text>
<text x="69.9" y="325" font-size="8" text-anchor="middle" font-weight="normal" fill="#222"  style="">+</text>
<text x="89.8" y="325" font-size="8" text-anchor="middle" font-weight="normal" fill="#222"  style="">−</text>
<text x="124.1" y="325" font-size="8" text-anchor="middle" font-weight="normal" fill="#222"  style="">+</text>
<text x="143.8" y="325" font-size="8" text-anchor="middle" font-weight="normal" fill="#222"  style="">−</text>
<text x="69.9" y="336" font-size="8" text-anchor="middle" font-weight="normal" fill="#222"  style="">−</text>
<text x="89.8" y="336" font-size="8" text-anchor="middle" font-weight="normal" fill="#222"  style="">+</text>
<text x="124.1" y="336" font-size="8" text-anchor="middle" font-weight="normal" fill="#222"  style="">−</text>
<text x="143.8" y="336" font-size="8" text-anchor="middle" font-weight="normal" fill="#222"  style="">+</text>
<text x="167.5" y="324.4" font-size="8.3" text-anchor="start" font-weight="normal" fill="#222"  style="">NS RNA</text>
<text x="167.5" y="335.3" font-size="8.4" text-anchor="start" font-weight="normal" fill="#222"  style="">FKBP51s siRNA</text>
<text x="188" y="183.1" font-size="7.1" text-anchor="start" font-weight="normal" fill="#222"  style="">FKBP51s-MFI relative expression</text>
<line x1="216.5" y1="188.9" x2="216.5" y2="242.2" stroke="#cfcfcf" stroke-width="0.9" />
<line x1="232.6" y1="188.9" x2="232.6" y2="242.2" stroke="#cfcfcf" stroke-width="0.9" />
<line x1="248.7" y1="188.9" x2="248.7" y2="242.2" stroke="#cfcfcf" stroke-width="0.9" />
<line x1="264.7" y1="188.9" x2="264.7" y2="242.2" stroke="#cfcfcf" stroke-width="0.9" />
<line x1="280.3" y1="188.9" x2="280.3" y2="242.2" stroke="#d8d8d8" stroke-width="0.9" />
<line x1="200.4" y1="188.9" x2="200.4" y2="242.7" stroke="#a0a0a0" stroke-width="1" />
<line x1="200" y1="242.2" x2="280.6" y2="242.2" stroke="#8a8a8a" stroke-width="1" />
<rect x="200.4" y="190.20000000000002" width="63.900000000000006" height="2.2" fill="#6fa5df"/>
<rect x="200.4" y="195.1" width="29.69999999999999" height="2.2" fill="#6fa5df"/>
<rect x="200.4" y="204.8" width="63.900000000000006" height="2.2" fill="#6fa5df"/>
<rect x="200.4" y="210.0" width="48.29999999999998" height="2.2" fill="#6fa5df"/>
<rect x="200.4" y="219.5" width="63.900000000000006" height="2.2" fill="#6fa5df"/>
<rect x="200.4" y="224.4" width="39.29999999999998" height="2.2" fill="#6fa5df"/>
<rect x="200.4" y="234.0" width="63.900000000000006" height="2.2" fill="#6fa5df"/>
<rect x="200.4" y="238.8" width="48.400000000000006" height="2.2" fill="#6fa5df"/>
<text x="265.7" y="193.10000000000002" font-size="4.5" text-anchor="start" font-weight="normal" fill="#444"  style="">NS</text>
<text x="265.7" y="198.10000000000002" font-size="4.5" text-anchor="start" font-weight="normal" fill="#444"  style="">siRNA</text>
<text x="265.7" y="207.4" font-size="4.5" text-anchor="start" font-weight="normal" fill="#444"  style="">NS</text>
<text x="265.7" y="212.4" font-size="4.5" text-anchor="start" font-weight="normal" fill="#444"  style="">siRNA</text>
<text x="265.7" y="221.7" font-size="4.5" text-anchor="start" font-weight="normal" fill="#444"  style="">NS</text>
<text x="265.7" y="226.7" font-size="4.5" text-anchor="start" font-weight="normal" fill="#444"  style="">siRNA</text>
<text x="265.7" y="235.9" font-size="4.5" text-anchor="start" font-weight="normal" fill="#444"  style="">NS</text>
<text x="265.7" y="240.9" font-size="4.5" text-anchor="start" font-weight="normal" fill="#444"  style="">siRNA</text>
<line x1="178" y1="193.7" x2="191.6" y2="193.7" stroke="#d9443f" stroke-width="2.2" />
<rect x="182.8" y="191.7" width="4.2" height="4" fill="#e77a78" stroke="#d9443f" stroke-width="0.6"/>
<text x="192.9" y="195.29999999999998" font-size="4.8" text-anchor="start" font-weight="normal" fill="#666"  style="">p1</text>
<line x1="178" y1="208.6" x2="191.6" y2="208.6" stroke="#9bc452" stroke-width="2.2" />
<rect x="182.8" y="206.6" width="4.2" height="4" fill="#b5d67f" stroke="#9bc452" stroke-width="0.6"/>
<text x="192.9" y="210.2" font-size="4.8" text-anchor="start" font-weight="normal" fill="#666"  style="">p2</text>
<line x1="178" y1="222.9" x2="191.6" y2="222.9" stroke="#8f6bc2" stroke-width="2.2" />
<path d="M182,222.9 L184.7,221.1 L187.4,222.9 L184.7,224.70000000000002 Z" fill="#8f6bc2"/>
<text x="192.9" y="224.5" font-size="4.8" text-anchor="start" font-weight="normal" fill="#666"  style="">p3</text>
<line x1="178" y1="237.8" x2="191.6" y2="237.8" stroke="#4f86c8" stroke-width="2.2" />
<circle cx="184.7" cy="237.8" r="1.8" fill="#9ec0ea" stroke="#4f86c8" stroke-width="0.8"/>
<text x="192.9" y="239.4" font-size="4.8" text-anchor="start" font-weight="normal" fill="#666"  style="">p4</text>
<text x="200.7" y="250.9" font-size="7.3" text-anchor="middle" font-weight="normal" fill="#222"  style="">0,2</text>
<text x="216.4" y="250.9" font-size="7.3" text-anchor="middle" font-weight="normal" fill="#222"  style="">0,4</text>
<text x="232.7" y="250.9" font-size="7.3" text-anchor="middle" font-weight="normal" fill="#222"  style="">0,6</text>
<text x="248.5" y="250.9" font-size="7.3" text-anchor="middle" font-weight="normal" fill="#222"  style="">0,8</text>
<text x="264.6" y="250.9" font-size="7.3" text-anchor="middle" font-weight="normal" fill="#222"  style="">1,0</text>
<text x="339.3" y="168" font-size="15" text-anchor="start" font-weight="bold" fill="#000"  style="">e</text>
<text transform="translate(347.4,252.1) rotate(-90)" font-size="8.6" text-anchor="middle" fill="#222">Normalised mRNA levels</text>
<text transform="translate(357.8,252.4) rotate(-90)" font-size="8.6" text-anchor="middle" fill="#222">relative to baseline</text>
<line x1="386.2" y1="173.8" x2="507.9" y2="173.8" stroke="#c9c9c9" stroke-width="1.5" />
<line x1="386.2" y1="212.9" x2="507.9" y2="212.9" stroke="#c9c9c9" stroke-width="1.5" />
<line x1="386.2" y1="252.0" x2="507.9" y2="252.0" stroke="#c9c9c9" stroke-width="1.5" />
<line x1="386.2" y1="291.1" x2="507.9" y2="291.1" stroke="#c9c9c9" stroke-width="1.5" />
<text x="382.9" y="176.8" font-size="8.4" text-anchor="end" font-weight="normal" fill="#222"  style="">100</text>
<text x="382.9" y="215.9" font-size="8.4" text-anchor="end" font-weight="normal" fill="#222"  style="">10</text>
<text x="382.9" y="255.0" font-size="8.4" text-anchor="end" font-weight="normal" fill="#222"  style="">1</text>
<text x="382.9" y="294.1" font-size="8.4" text-anchor="end" font-weight="normal" fill="#222"  style="">0,1</text>
<text x="382.9" y="333.20000000000005" font-size="8.4" text-anchor="end" font-weight="normal" fill="#222"  style="">0,01</text>
<line x1="388.4" y1="173.8" x2="388.4" y2="330.70000000000005" stroke="#666" stroke-width="1.1" />
<line x1="386.09999999999997" y1="330.20000000000005" x2="508.2" y2="330.20000000000005" stroke="#8c8c8c" stroke-width="1.7" />
<text x="450.7" y="169.1" font-size="8.3" text-anchor="middle" font-weight="normal" fill="#222"  style="">ARG1</text>
<line x1="541.0" y1="171.6" x2="666" y2="171.6" stroke="#c9c9c9" stroke-width="1.5" />
<line x1="541.0" y1="211.2" x2="666" y2="211.2" stroke="#c9c9c9" stroke-width="1.5" />
<line x1="541.0" y1="250.8" x2="666" y2="250.8" stroke="#c9c9c9" stroke-width="1.5" />
<line x1="541.0" y1="290.4" x2="666" y2="290.4" stroke="#c9c9c9" stroke-width="1.5" />
<text x="537.7" y="174.6" font-size="8.4" text-anchor="end" font-weight="normal" fill="#222"  style="">100</text>
<text x="537.7" y="214.2" font-size="8.4" text-anchor="end" font-weight="normal" fill="#222"  style="">10</text>
<text x="537.7" y="253.8" font-size="8.4" text-anchor="end" font-weight="normal" fill="#222"  style="">1</text>
<text x="537.7" y="293.4" font-size="8.4" text-anchor="end" font-weight="normal" fill="#222"  style="">0,1</text>
<text x="537.7" y="333.0" font-size="8.4" text-anchor="end" font-weight="normal" fill="#222"  style="">0,01</text>
<line x1="543.2" y1="171.6" x2="543.2" y2="330.5" stroke="#666" stroke-width="1.1" />
<line x1="540.9000000000001" y1="330.0" x2="665.7" y2="330.0" stroke="#8c8c8c" stroke-width="1.7" />
<text x="605.3" y="169.1" font-size="8.3" text-anchor="middle" font-weight="normal" fill="#222"  style="">MSR1</text>
<path d="M396,180.1 L398.4,182.5 L396,184.9 L393.6,182.5 Z" fill="#4a80d0" stroke="none"/>
<text x="401.0" y="184.4" font-size="7.2" text-anchor="start" font-weight="normal" fill="#222"  style="">R</text>
<text x="410.5" y="184.4" font-size="7.2" text-anchor="start" font-weight="normal" fill="#222"  style="">vs</text>
<path d="M419.4,184.0 L421.5,180.2 L423.6,184.0 Z" fill="#7db35a" stroke="none" stroke-width="0"/>
<text x="426.5" y="184.4" font-size="7.2" text-anchor="start" font-weight="normal" fill="#222"  style="">NR</text>
<text x="443.8" y="184.4" font-size="7.2" text-anchor="start" font-weight="normal" fill="#222"  style=""><tspan font-style="italic">p</tspan> = 0.05</text>
<path d="M554.3,178.5 L556.6999999999999,180.9 L554.3,183.3 L551.9,180.9 Z" fill="#4a80d0" stroke="none"/>
<text x="560.6999999999999" y="182.8" font-size="7.2" text-anchor="start" font-weight="normal" fill="#222"  style="">R</text>
<text x="569.8" y="182.8" font-size="7.2" text-anchor="start" font-weight="normal" fill="#222"  style="">vs</text>
<path d="M578.1999999999999,182.4 L580.3,178.6 L582.4,182.4 Z" fill="#7db35a" stroke="none" stroke-width="0"/>
<text x="585.8" y="182.8" font-size="7.2" text-anchor="start" font-weight="normal" fill="#222"  style="">NR</text>
<text x="603.3" y="182.8" font-size="7.2" text-anchor="start" font-weight="normal" fill="#222"  style=""><tspan font-style="italic">p</tspan> = 0.04</text>
<line x1="432.9" y1="245.6" x2="464.4" y2="200.1" stroke="#93c45e" stroke-width="0.9" />
<line x1="432.9" y1="245.6" x2="470.8" y2="205.4" stroke="#93c45e" stroke-width="0.9" />
<line x1="432.9" y1="245.6" x2="463.8" y2="220.6" stroke="#93c45e" stroke-width="0.9" />
<line x1="432.7" y1="252.2" x2="461.3" y2="252.2" stroke="#93c45e" stroke-width="0.9" />
<line x1="433" y1="256.5" x2="464.2" y2="277.8" stroke="#93c45e" stroke-width="0.9" />
<line x1="432.7" y1="253.5" x2="459" y2="255.7" stroke="#4a7cc8" stroke-width="0.9" />
<line x1="432.7" y1="253.5" x2="454.9" y2="258.6" stroke="#4a7cc8" stroke-width="0.9" />
<line x1="433" y1="256" x2="460.7" y2="271.7" stroke="#4a7cc8" stroke-width="0.9" />
<line x1="429.2" y1="258.6" x2="454.8" y2="303.5" stroke="#4a7cc8" stroke-width="0.9" />
<line x1="432.7" y1="258.6" x2="464.5" y2="299.4" stroke="#4a7cc8" stroke-width="0.9" />
<rect x="426.1" y="249.6" width="5" height="5" fill="#f58a3c" stroke="#ea7c30" stroke-width="0.3"/>
<path d="M466.2,197.5 L468.4,193.5 L470.59999999999997,197.5 Z" fill="#7db35a" stroke="none" stroke-width="0"/>
<path d="M474.3,199.8 L476.5,195.8 L478.7,199.8 Z" fill="#7db35a" stroke="none" stroke-width="0"/>
<path d="M466.2,219.7 L468.4,215.7 L470.59999999999997,219.7 Z" fill="#7db35a" stroke="none" stroke-width="0"/>
<path d="M466.2,253.8 L468.4,249.8 L470.59999999999997,253.8 Z" fill="#7db35a" stroke="none" stroke-width="0"/>
<path d="M466.2,281.2 L468.4,277.2 L470.59999999999997,281.2 Z" fill="#7db35a" stroke="none" stroke-width="0"/>
<path d="M460.4,253.6 L462.7,255.9 L460.4,258.2 L458.09999999999997,255.9 Z" fill="#4a80d0" stroke="none"/>
<path d="M460.4,256.3 L462.7,258.6 L460.4,260.90000000000003 L458.09999999999997,258.6 Z" fill="#4a80d0" stroke="none"/>
<path d="M468.4,253.1 L470.7,255.4 L468.4,257.7 L466.09999999999997,255.4 Z" fill="#4a80d0" stroke="none"/>
<path d="M468.4,269.9 L470.7,272.2 L468.4,274.5 L466.09999999999997,272.2 Z" fill="#4a80d0" stroke="none"/>
<path d="M468.4,300.59999999999997 L470.7,302.9 L468.4,305.2 L466.09999999999997,302.9 Z" fill="#4a80d0" stroke="none"/>
<path d="M460.2,304.0 L462.5,306.3 L460.2,308.6 L457.9,306.3 Z" fill="#4a80d0" stroke="none"/>
<text x="426.55" y="341.3" font-size="8.4" text-anchor="middle" font-weight="normal" fill="#222"  style="">Baseline</text>
<text x="475.65" y="341.3" font-size="8.4" text-anchor="middle" font-weight="normal" fill="#222"  style="">Followup</text>
<line x1="586.9" y1="243.6" x2="619.6" y2="201.6" stroke="#93c45e" stroke-width="0.9" />
<line x1="592.8" y1="244.9" x2="620.1" y2="212.5" stroke="#93c45e" stroke-width="0.9" />
<line x1="592.8" y1="245.7" x2="626.1" y2="217.4" stroke="#93c45e" stroke-width="0.9" />
<line x1="593.4" y1="246.1" x2="631.5" y2="221.2" stroke="#93c45e" stroke-width="0.9" />
<line x1="591.1" y1="250.7" x2="625.5" y2="256.3" stroke="#93c45e" stroke-width="0.9" />
<line x1="592.8" y1="247.5" x2="620.1" y2="236.5" stroke="#4a7cc8" stroke-width="0.9" />
<line x1="591.1" y1="250.7" x2="619.6" y2="246.1" stroke="#4a7cc8" stroke-width="0.9" />
<line x1="591.1" y1="251.7" x2="620.2" y2="262.4" stroke="#4a7cc8" stroke-width="0.9" />
<line x1="587.2" y1="253.8" x2="610.5" y2="264.7" stroke="#4a7cc8" stroke-width="0.9" />
<line x1="584.9" y1="256.9" x2="620" y2="323.3" stroke="#4a7cc8" stroke-width="0.9" />
<rect x="581.5" y="248.3" width="5.4" height="5.4" fill="#f58a3c" stroke="#ea7c30" stroke-width="0.3"/>
<path d="M622.8,196.7 L625,192.7 L627.2,196.7 Z" fill="#7db35a" stroke="none" stroke-width="0"/>
<path d="M618.5999999999999,209.5 L620.8,205.5 L623.0,209.5 Z" fill="#7db35a" stroke="none" stroke-width="0"/>
<path d="M626.8,214.9 L629,210.9 L631.2,214.9 Z" fill="#7db35a" stroke="none" stroke-width="0"/>
<path d="M634.9,218.8 L637.1,214.8 L639.3000000000001,218.8 Z" fill="#7db35a" stroke="none" stroke-width="0"/>
<path d="M622.8,261.4 L625,257.4 L627.2,261.4 Z" fill="#7db35a" stroke="none" stroke-width="0"/>
<path d="M625,230.79999999999998 L627.3,233.1 L625,235.4 L622.7,233.1 Z" fill="#4a80d0" stroke="none"/>
<path d="M625,241.29999999999998 L627.3,243.6 L625,245.9 L622.7,243.6 Z" fill="#4a80d0" stroke="none"/>
<path d="M625,260.7 L627.3,263 L625,265.3 L622.7,263 Z" fill="#4a80d0" stroke="none"/>
<path d="M617.1,264.5 L619.4,266.8 L617.1,269.1 L614.8000000000001,266.8 Z" fill="#4a80d0" stroke="none"/>
<circle cx="624.9" cy="329.9" r="1.9" fill="#4a80d0" stroke="none" stroke-width="0"/>
<text x="581.55" y="341.3" font-size="8.4" text-anchor="middle" font-weight="normal" fill="#222"  style="">Baseline</text>
<text x="630.55" y="341.3" font-size="8.4" text-anchor="middle" font-weight="normal" fill="#222"  style="">Followup</text>
</svg></body></html>
